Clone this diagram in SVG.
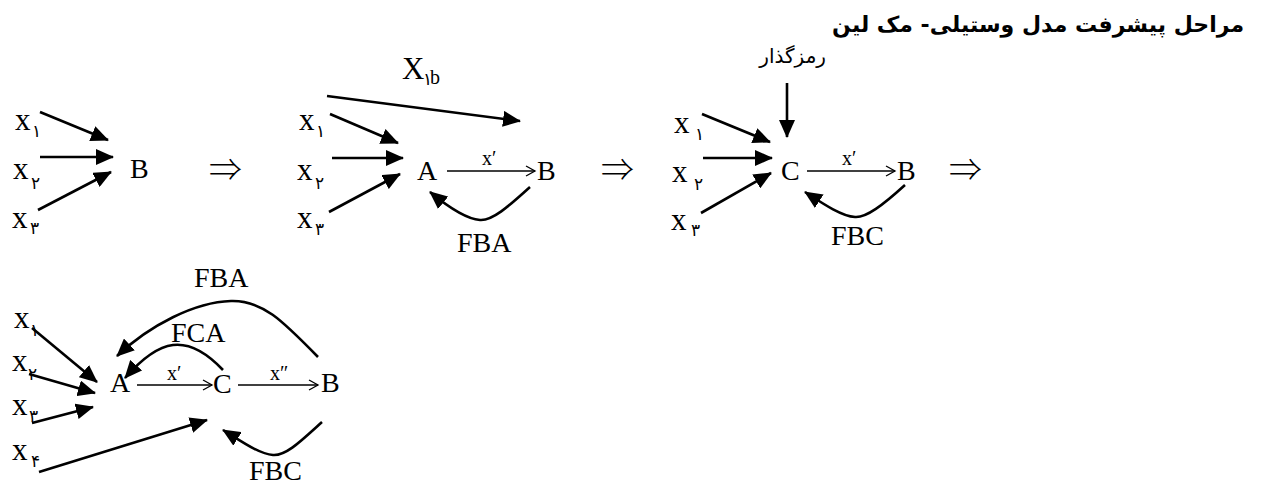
<svg xmlns="http://www.w3.org/2000/svg" width="1263" height="484" viewBox="0 0 1263 484">
<style>
.t{font-family:"Liberation Serif","Times New Roman",serif;font-size:28px;fill:#000}
.xv{font-family:"Liberation Serif","Times New Roman",serif;font-size:31px;fill:#000}
.sub{font-family:"DejaVu Sans",sans-serif;font-size:17px;fill:#000}
.lbl{font-family:"Liberation Serif","Times New Roman",serif;font-size:20px;fill:#000}
.imp{font-family:"Noto Sans CJK JP","DejaVu Sans",sans-serif;font-weight:300;font-size:32px;fill:#000}
.fa{font-family:"DejaVu Sans","Noto Sans",sans-serif;fill:#000}
.thick{fill:none;stroke:#000;stroke-width:2.6;marker-end:url(#ah)}
.thin{fill:none;stroke:#000;stroke-width:1.3;marker-end:url(#oh)}
</style>
<defs>
<marker id="ah" markerUnits="userSpaceOnUse" markerWidth="18" markerHeight="16" viewBox="0 0 18 16" refX="17" refY="8" orient="auto"><path d="M0,0 L18,8 L0,16 z" fill="#000"/></marker>
<marker id="oh" markerUnits="userSpaceOnUse" markerWidth="12" markerHeight="12" viewBox="-1 -1 12 12" refX="9" refY="5" orient="auto" overflow="visible"><path d="M0,0 L9,5 L0,10" fill="none" stroke="#000" stroke-width="1.3"/></marker>
</defs>
<rect width="1263" height="484" fill="#fff"/>

<text id="title" class="fa" x="1244" y="32" font-size="22" font-weight="bold" text-anchor="end">مراحل پیشرفت مدل وستیلی- مک لین</text>

<!-- Panel 1 -->
<g id="p1-x1"><text class="xv" x="15" y="130">x</text><text class="sub" x="32" y="137">۱</text></g>
<g id="p1-x2"><text class="xv" x="13" y="179">x</text><text class="sub" x="31" y="189">۲</text></g>
<g id="p1-x3"><text class="xv" x="12" y="228">x</text><text class="sub" x="30" y="234">۳</text></g>
<g id="p1-B"><text class="t" x="130" y="178">B</text></g>
<g id="imp1"><text class="imp" x="209" y="181" textLength="33" lengthAdjust="spacingAndGlyphs">⇒</text></g>

<!-- Panel 2 -->
<g id="p2-X1b"><text class="xv" x="402" y="79">X</text><text class="sub" x="423" y="85" font-size="15">۱</text><text class="lbl" x="430" y="84" font-size="18">b</text></g>
<g id="p2-x1"><text class="xv" x="299" y="130">x</text><text class="sub" x="316" y="137">۱</text></g>
<g id="p2-x2"><text class="xv" x="297" y="180">x</text><text class="sub" x="315" y="189">۲</text></g>
<g id="p2-x3"><text class="xv" x="297" y="228">x</text><text class="sub" x="315" y="235">۳</text></g>
<g id="p2-A"><text class="t" x="417" y="180">A</text></g>
<g id="p2-B"><text class="t" x="537" y="180">B</text></g>
<g id="p2-lbl"><text class="lbl" x="482" y="165">x′</text><text class="t" x="457" y="252">FBA</text></g>
<g id="imp2"><text class="imp" x="601" y="181" textLength="33" lengthAdjust="spacingAndGlyphs">⇒</text></g>

<!-- Panel 3 -->
<g id="p3-enc"><text class="fa" x="826" y="63" font-size="20" text-anchor="end">رمزگذار</text></g>
<g id="p3-x1"><text class="xv" x="674" y="133">x</text><text class="sub" x="695" y="140">۱</text></g>
<g id="p3-x2"><text class="xv" x="672" y="182">x</text><text class="sub" x="694" y="190">۲</text></g>
<g id="p3-x3"><text class="xv" x="671" y="230">x</text><text class="sub" x="691" y="236">۳</text></g>
<g id="p3-C"><text class="t" x="781" y="180">C</text></g>
<g id="p3-B"><text class="t" x="897" y="180">B</text></g>
<g id="p3-lbl"><text class="lbl" x="842" y="165">x′</text><text class="t" x="831" y="245">FBC</text></g>
<g id="imp3"><text class="imp" x="949" y="181" textLength="33" lengthAdjust="spacingAndGlyphs">⇒</text></g>

<!-- Panel 4 -->
<g id="p4-x1"><text class="xv" x="14" y="328">x</text><text class="sub" x="30" y="336">۱</text></g>
<g id="p4-x2"><text class="xv" x="12" y="371">x</text><text class="sub" x="28" y="380">۲</text></g>
<g id="p4-x3"><text class="xv" x="12" y="415">x</text><text class="sub" x="29" y="422">۳</text></g>
<g id="p4-x4"><text class="xv" x="12" y="460">x</text><text class="sub" x="31" y="467">۴</text></g>
<g id="p4-A"><text class="t" x="110" y="392">A</text></g>
<g id="p4-C"><text class="t" x="213" y="393">C</text></g>
<g id="p4-B"><text class="t" x="321" y="392">B</text></g>
<g id="p4-lbl"><text class="t" x="194" y="287">FBA</text><text class="t" x="171" y="342">FCA</text><text class="lbl" x="167" y="380">x′</text><text class="lbl" x="270" y="380">x″</text><text class="t" x="249" y="480">FBC</text></g>

<g id="connectors">
<!-- panel 1 -->
<line class="thick" x1="40" y1="112" x2="108" y2="140"/>
<line class="thick" x1="40" y1="157" x2="113" y2="157"/>
<line class="thick" x1="38" y1="210" x2="111" y2="172"/>
<!-- panel 2 -->
<line class="thick" x1="327" y1="96" x2="520" y2="121"/>
<line class="thick" x1="330" y1="114" x2="398" y2="143"/>
<line class="thick" x1="332" y1="158" x2="403" y2="158"/>
<line class="thick" x1="329" y1="212" x2="400" y2="174"/>
<line class="thin" x1="447" y1="171" x2="535" y2="171"/>
<path class="thick" d="M530,187 C508,207 492,221 480,220 C466,219 447,206 430,192"/>
<!-- panel 3 -->
<line class="thick" x1="787" y1="83" x2="787" y2="137"/>
<line class="thick" x1="702" y1="114" x2="770" y2="142"/>
<line class="thick" x1="703" y1="158" x2="772" y2="158"/>
<line class="thick" x1="701" y1="213" x2="771" y2="173"/>
<line class="thin" x1="807" y1="171" x2="895" y2="171"/>
<path class="thick" d="M905,185 C883,205 866,218 855,217 C841,216 822,203 805,192"/>
<!-- panel 4 -->
<line class="thick" x1="32" y1="328" x2="97" y2="382"/>
<line class="thick" x1="29" y1="374" x2="95" y2="393"/>
<line class="thick" x1="32" y1="423" x2="93" y2="407"/>
<line class="thick" x1="39" y1="472" x2="207" y2="420"/>
<line class="thin" x1="137" y1="385" x2="212" y2="385"/>
<line class="thin" x1="238" y1="385" x2="318" y2="385"/>
<path class="thick" d="M318,357 C282,320 262,300 231,301 C195,302 150,325 117,356"/>
<path class="thick" d="M223,370 C206,352 189,343 173,345 C156,347 139,362 125,378"/>
<path class="thick" d="M322,422 C301,441 286,456 273,455 C259,454 241,441 223,430"/>
</g>
</svg>
